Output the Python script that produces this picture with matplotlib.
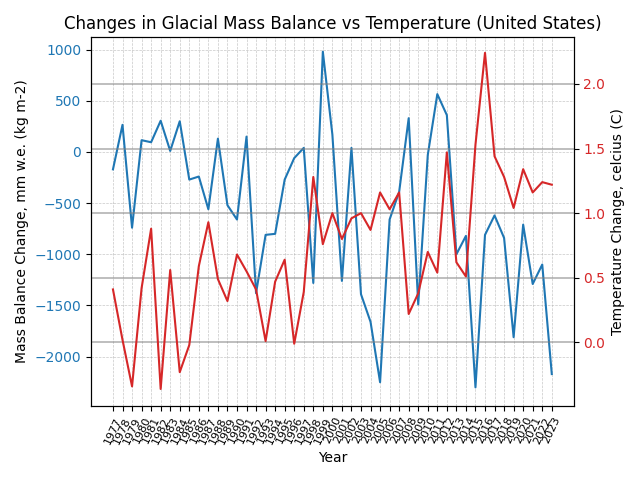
import matplotlib
matplotlib.use('Agg')
import matplotlib.pyplot as plt

years = list(range(1977, 2024))
mass_balance = [-170, 265, -740, 115, 95, 305, 10, 300, -270, -240,
                -560, 130, -520, -660, 150, -1380, -810, -800, -270, -60,
                40, -1280, 980, 170, -1260, 40, -1390, -1660, -2250, -660,
                -390, 330, -1490, -30, 565, 360, -1000, -820, -2300, -810,
                -620, -840, -1810, -710, -1290, -1100, -2170]
temp_change = [0.41, 0.02, -0.34, 0.42, 0.88, -0.36, 0.56, -0.23, -0.02, 0.59,
               0.93, 0.49, 0.32, 0.68, 0.55, 0.41, 0.01, 0.47, 0.64, -0.01,
               0.39, 1.28, 0.76, 1.00, 0.80, 0.96, 1.00, 0.87, 1.16, 1.03,
               1.16, 0.22, 0.38, 0.70, 0.54, 1.47, 0.62, 0.51, 1.53, 2.24,
               1.44, 1.28, 1.04, 1.34, 1.16, 1.24, 1.22]

fig, ax1 = plt.subplots(figsize=(6.4, 4.8), dpi=100)
ax1.plot(years, mass_balance, color='tab:blue')
ax1.set_xlabel('Year')
ax1.set_ylabel('Mass Balance Change, mm w.e. (kg m-2)')
ax1.tick_params(axis='y', labelcolor='tab:blue')
ax1.set_xticks(years)
ax1.set_xticklabels([str(y) for y in years], rotation=65, fontsize=8)
ax1.set_ylim(-2480, 1120)
ax1.grid(True, linestyle='--', linewidth=0.5, alpha=0.7)

ax2 = ax1.twinx()
ax2.plot(years, temp_change, color='tab:red')
ax2.set_ylabel('Temperature Change, celcius (C)')
ax2.tick_params(axis='y', labelcolor='tab:red')
ax2.set_ylim(-0.49, 2.36)
ax2.grid(True, color='gray', linewidth=1.2, alpha=0.6)

plt.title('Changes in Glacial Mass Balance vs Temperature (United States)')
fig.tight_layout()
fig.savefig('out.png')
